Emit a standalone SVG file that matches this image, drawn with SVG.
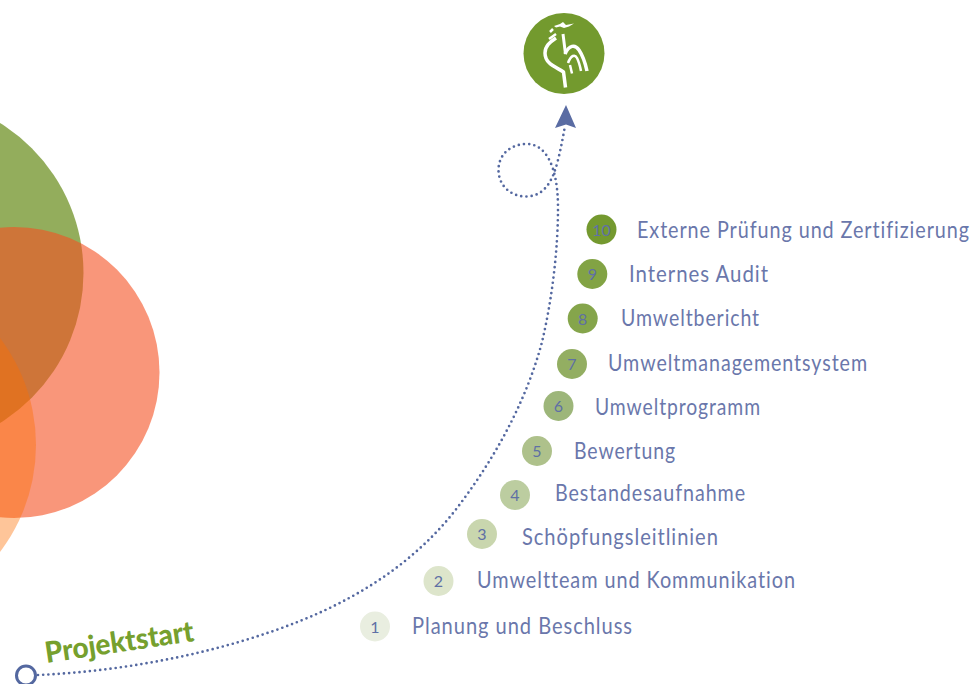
<svg xmlns="http://www.w3.org/2000/svg" width="974" height="684" viewBox="0 0 974 684">
<style>
.lbl{font-family:"Lato","Noto Sans",sans-serif;font-size:23.500px;fill:#6a77ab;letter-spacing:1.100px}
.num{font-family:"Lato","Noto Sans",sans-serif;font-size:16px;fill:#5f70a5;text-anchor:middle}
.r{fill:none;stroke:#fff;stroke-linecap:butt;stroke-linejoin:round}
</style>
<rect width="974" height="684" fill="#fff"/>
<g id="circles">
<circle cx="-93" cy="273" r="176.5" fill="#6f9226" fill-opacity=".75"/>
<circle cx="14" cy="372.5" r="145.5" fill="#f55021" fill-opacity=".6"/>
<circle cx="-141" cy="445" r="177" fill="#fc6e00" fill-opacity=".4"/>
</g>
<g id="connectors">
<path d="M38 675C130 671 225 651 300 621C370 593 425 553 463 500C500 450 528 395 542 342C552 300 558 250 558 208C558 165 545 144 527 144C510 144 498.500 155 498.500 170C498.500 185 510 196.500 526 196.500C545 196.500 553 180 558 160C561 148 563 137 565 126" fill="none" stroke="#5468a0" stroke-width="2.700" stroke-linecap="round" stroke-dasharray="0 5.200"/>
<path d="M566 105L576 128L566 124.500L555 128Z" fill="#5a6ca3"/>
</g>
<g id="start"><circle cx="26" cy="675.500" r="9.500" fill="#fff" stroke="#5468a0" stroke-width="3"/>
<text transform="translate(46.500 663) rotate(-8.500)" font-family="Lato,'Noto Sans',sans-serif" font-weight="900" font-size="29" fill="#76a02e" textLength="150" lengthAdjust="spacingAndGlyphs">Projektstart</text></g>
<g id="logo">
<circle cx="564" cy="53.500" r="40.500" fill="#739a2e"/>
<path class="r" stroke-width="3.500" d="M565.500 87.500L563.500 72C556 67 545 64 545 53C545 46 550 42 556 38"/>
<path class="r" stroke-width="3" d="M563 34L565.500 54"/>
<path class="r" stroke-width="3.500" d="M565 54C569 45 575 44 579 50C583 56 585.500 64 587 71"/>
<path class="r" stroke-width="2.500" d="M568 63C571 55 575 54 577 58C579 62 580 66 581 71"/>
<path class="r" stroke-width="2.500" d="M570 65L572 73.500"/>
<path class="r" stroke-width="2.500" d="M549 39L556 34M550 32L553 29"/>
<path d="M554 26L560 24L563 22L566 25L574 23.500L569 26.500L564 28L560 26.500L556 27.500Z" fill="#fff"/>
</g>
<g id="n1"><circle cx="375" cy="626.500" r="15" fill="#e9eee0"/><text class="num" x="375" y="632.500">1</text><text class="lbl" transform="translate(412 634) scale(.845 1)" textLength="261.500" lengthAdjust="spacingAndGlyphs">Planung und Beschluss</text></g>
<g id="n2"><circle cx="438.500" cy="581" r="15" fill="#dde5cb"/><text class="num" x="438.500" y="587">2</text><text class="lbl" transform="translate(477 588) scale(.845 1)" textLength="377.500" lengthAdjust="spacingAndGlyphs">Umweltteam und Kommunikation</text></g>
<g id="n3"><circle cx="482" cy="534" r="15" fill="#c9d6ae"/><text class="num" x="482" y="540">3</text><text class="lbl" transform="translate(522 544.500) scale(.845 1)" textLength="233" lengthAdjust="spacingAndGlyphs">Schöpfungsleitlinien</text></g>
<g id="n4"><circle cx="515" cy="495" r="15" fill="#bccda0"/><text class="num" x="515" y="501">4</text><text class="lbl" transform="translate(555 501) scale(.845 1)" textLength="226" lengthAdjust="spacingAndGlyphs">Bestandesaufnahme</text></g>
<g id="n5"><circle cx="537" cy="451" r="15" fill="#aec18b"/><text class="num" x="537" y="457">5</text><text class="lbl" transform="translate(574 459) scale(.845 1)" textLength="120.700" lengthAdjust="spacingAndGlyphs">Bewertung</text></g>
<g id="n6"><circle cx="558.500" cy="406" r="15" fill="#9db67a"/><text class="num" x="558.500" y="412">6</text><text class="lbl" transform="translate(595 415) scale(.845 1)" textLength="196.400" lengthAdjust="spacingAndGlyphs">Umweltprogramm</text></g>
<g id="n7"><circle cx="572" cy="364" r="15" fill="#93ae62"/><text class="num" x="572" y="370">7</text><text class="lbl" transform="translate(608 371) scale(.845 1)" textLength="307.700" lengthAdjust="spacingAndGlyphs">Umweltmanagementsystem</text></g>
<g id="n8"><circle cx="582.700" cy="318.500" r="15" fill="#85a54b"/><text class="num" x="582.700" y="324.500">8</text><text class="lbl" transform="translate(621 326) scale(.845 1)" textLength="164.500" lengthAdjust="spacingAndGlyphs">Umweltbericht</text></g>
<g id="n9"><circle cx="592.300" cy="274" r="15" fill="#82a344"/><text class="num" x="592.300" y="280">9</text><text class="lbl" transform="translate(629 282) scale(.845 1)" textLength="165.700" lengthAdjust="spacingAndGlyphs">Internes Audit</text></g>
<g id="n10"><circle cx="601.500" cy="229.500" r="15" fill="#74992f"/><text class="num" x="601.500" y="235.500">10</text><text class="lbl" transform="translate(637 238) scale(.845 1)" textLength="394" lengthAdjust="spacingAndGlyphs">Externe Prüfung und Zertifizierung</text></g>
</svg>
